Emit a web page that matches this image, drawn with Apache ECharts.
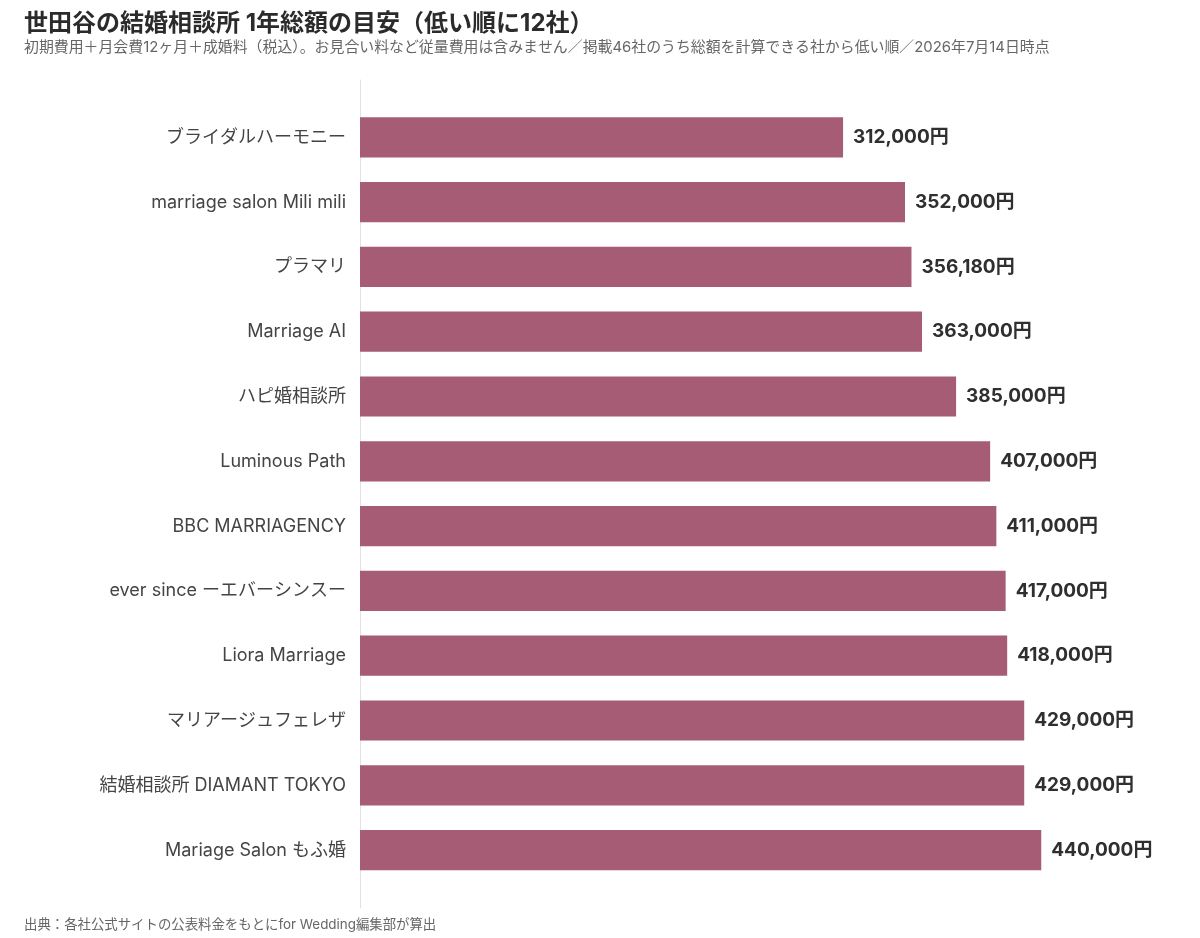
<!DOCTYPE html>
<html>
<head>
<meta charset="utf-8">
<script src="https://cdn.jsdelivr.net/npm/echarts@6/dist/echarts.min.js"></script>
<style>
  html, body { margin: 0; padding: 0; background: #fff; }
  #chart { width: 1200px; height: 938px; }
</style>
</head>
<body>
<div id="chart"></div>
<script>
var FONT = 'Inter, "Noto Sans CJK JP", sans-serif';

var categories = [
    "ブライダルハーモニー",
    "marriage salon Mili mili",
    "プラマリ",
    "Marriage AI",
    "ハピ婚相談所",
    "Luminous Path",
    "BBC MARRIAGENCY",
    "ever since ーエバーシンスー",
    "Liora Marriage",
    "マリアージュフェレザ",
    "結婚相談所 DIAMANT TOKYO",
    "Mariage Salon もふ婚"
];
var totals = [312000, 352000, 356180, 363000, 385000, 407000, 411000, 417000, 418000, 429000, 429000, 440000];

var chart = echarts.init(document.getElementById("chart"));

chart.setOption({
    backgroundColor: "#fff",
    animation: false,
    title: [{
        text: "世田谷の結婚相談所 1年総額の目安（低い順に12社）",
        left: 24,
        top: 12,
        padding: 0,
        textStyle: { fontFamily: FONT, fontSize: 24, fontWeight: "bold", color: "#2b2b2b" }
    }, {
        text: "初期費用＋月会費12ヶ月＋成婚料（税込）。お見合い料など従量費用は含みません／掲載46社のうち総額を計算できる社から低い順／2026年7月14日時点",
        left: 24,
        top: 40,
        padding: 0,
        textStyle: { fontFamily: FONT, fontSize: 14.9, fontWeight: "normal", color: "#666" }
    }, {
        text: "出典：各社公式サイトの公表料金をもとにfor Wedding編集部が算出",
        left: 24,
        top: 918,
        padding: 0,
        textStyle: { fontFamily: FONT, fontSize: 13.4, fontWeight: "normal", color: "#666" }
    }],
    grid: [
        { left: 360, width: 800, top: 80, height: 828 },
        { left: 360, width: 800, top: 104.9, height: 777.6 }
    ],
    xAxis: [
        { gridIndex: 0, type: "value", min: 0, max: 516700, show: false },
        { gridIndex: 1, type: "value", min: 0, max: 516700, show: false }
    ],
    yAxis: [
        {
            gridIndex: 0, type: "category", data: [""],
            axisLine: { show: true, lineStyle: { color: "#e2e2e2", width: 1 } },
            axisTick: { show: false }, axisLabel: { show: false }, splitLine: { show: false }
        },
        {
            gridIndex: 1, type: "category", data: categories, inverse: true,
            axisLine: { show: false }, axisTick: { show: false },
            axisLabel: { margin: 14, fontFamily: FONT, fontSize: 18, color: "#444" }
        }
    ],
    series: [{
        type: "bar",
        xAxisIndex: 1,
        yAxisIndex: 1,
        data: totals,
        barCategoryGap: "38%",
        itemStyle: { color: "#a55c74" },
        label: {
            show: true,
            position: "right",
            distance: 10,
            fontFamily: FONT,
            fontSize: 19,
            fontWeight: "bold",
            color: "#2f2f2f",
            formatter: function (p) {
                return p.value.toLocaleString("en-US") + "円";
            }
        }
    }]
});
</script>
</body>
</html>
